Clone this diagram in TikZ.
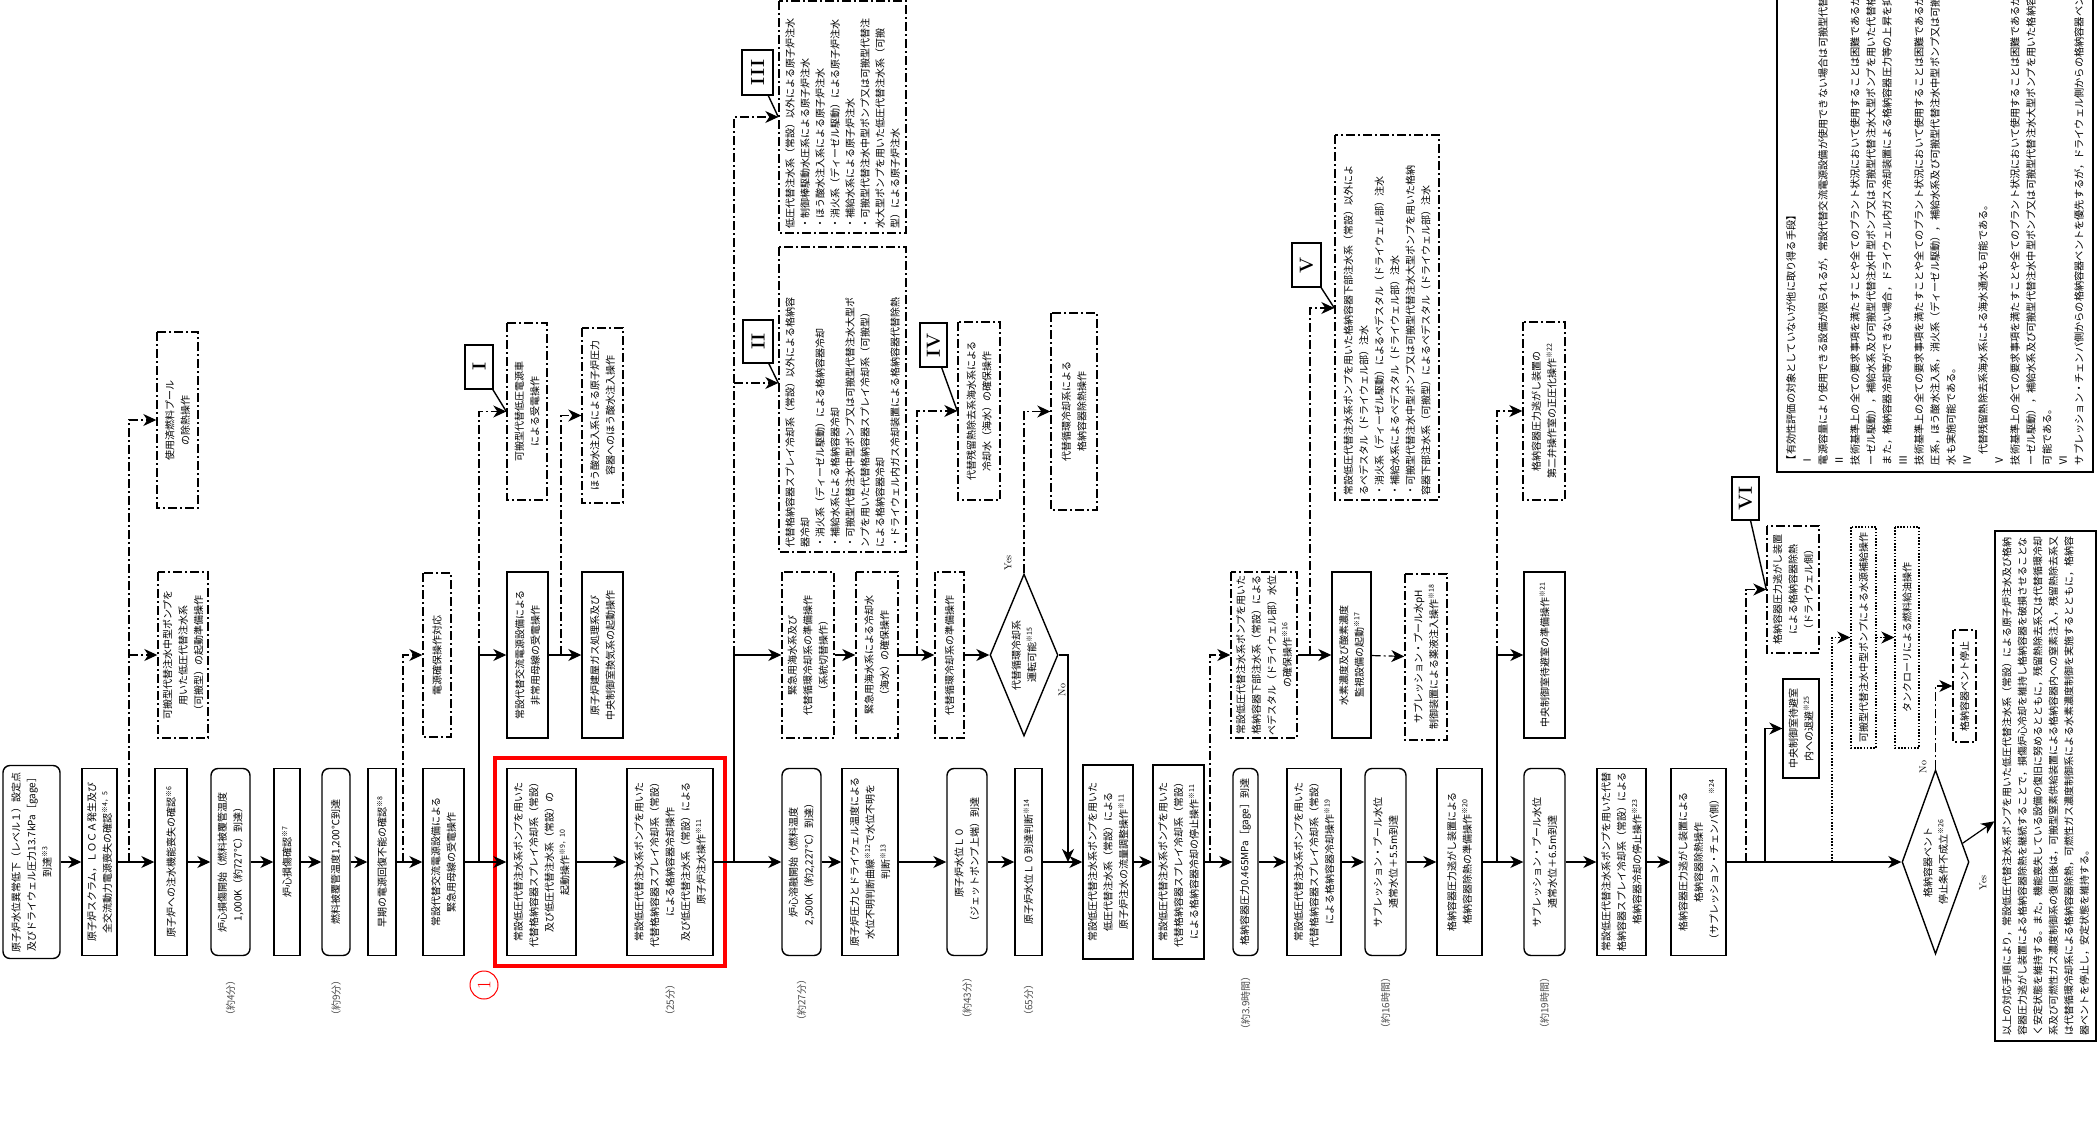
\documentclass[tikz,border=0pt]{standalone}
\usepackage{fontspec}
\newfontfamily\jp{Noto Sans CJK JP}
\usepackage{tikz}
\usetikzlibrary{arrows.meta,fit,shapes.geometric}
\newcommand{\jpf}{\jp\fontsize{10}{15.5}\selectfont}
\newcommand{\jpl}{\jp\fontsize{10}{15}\selectfont}
\newcommand{\nt}[1]{\textsuperscript{※#1}}
\tikzset{
  sz/.style 2 args={minimum width=#1pt,minimum height=#2pt},
  stepbox/.style={draw,line width=1.4pt,rotate=90,align=center,font=\jpf,inner sep=2pt},
  evbox/.style={stepbox,rounded corners=7pt},
  optbox/.style={stepbox,dash pattern=on 9pt off 3pt on 2pt off 3pt},
  dotbox/.style={stepbox,dash pattern=on 1.6pt off 1.6pt},
  qbox/.style={draw,line width=1.4pt,diamond,rotate=90,align=center,font=\jpf,inner sep=0pt},
  romtag/.style={draw,line width=1.4pt,rotate=90,inner sep=0pt,font=\bfseries\fontsize{19}{19}\selectfont},
  timelab/.style={rotate=90,font=\jpf,text=black!70},
  ynlab/.style={rotate=90,font=\fontsize{10}{10}\selectfont},
  flowln/.style={line width=1.2pt,->},
  altln/.style={line width=1.2pt,dash pattern=on 9pt off 3pt on 2pt off 3pt},
  dotln/.style={line width=1.2pt,dash pattern=on 1.6pt off 1.6pt},
  tipln/.style={line width=1.4pt},
}

\begin{document}
\begin{tikzpicture}[x=1pt,y=-1pt,>={Stealth[length=13pt,width=12pt,inset=4pt]}]
  \useasboundingbox (0,0) rectangle (2097,1124);
  \clip (0,0) rectangle (2097,1124);

  % main row: event sequence
  \node[evbox,sz={193}{57}] (m1) at (31.5,862) {原子炉水位異常低下（レベル１）設定点\\及びドライウェル圧力13.7kPa［gage］\\到達\nt{3}};
  \node[stepbox,sz={187}{35}] (m2) at (99.5,862) {原子炉スクラム，ＬＯＣＡ発生及び\\全交流動力電源喪失の確認\nt{4，5}};
  \node[stepbox,sz={187}{32}] (m3) at (171,862) {原子炉への注水機能喪失の確認\nt{6}};
  \node[evbox,sz={187}{39}] (m4) at (230.5,862) {炉心損傷開始（燃料被覆管温度\\1,000K（約727℃）到達）};
  \node[stepbox,sz={187}{26}] (m5) at (287,862) {炉心損傷確認\nt{7}};
  \node[evbox,sz={187}{28}] (m6) at (336,862) {燃料被覆管温度1,200℃到達};
  \node[stepbox,sz={187}{28}] (m7) at (382,862) {早期の電源回復不能の確認\nt{8}};
  \node[stepbox,sz={187}{41}] (m8) at (443.5,862) {常設代替交流電源設備による\\緊急用母線の受電操作};
  \node[stepbox,sz={187}{69}] (m9) at (541.5,862) {常設低圧代替注水系ポンプを用いた\\代替格納容器スプレイ冷却系（常設）\\及び低圧代替注水系（常設）の\\起動操作\nt{9，10}};
  \node[stepbox,sz={187}{86}] (m10) at (670,862) {常設低圧代替注水系ポンプを用いた\\代替格納容器スプレイ冷却系（常設）\\による格納容器冷却操作\\及び低圧代替注水系（常設）による\\原子炉注水操作\nt{11}};
  \node[evbox,sz={187}{39}] (m11) at (801.5,862) {炉心溶融開始（燃料温度\\2,500K（約2,227℃）到達）};
  \node[stepbox,sz={187}{56}] (m12) at (870,862) {原子炉圧力とドライウェル温度による\\水位不明判断曲線\nt{12}で水位不明を\\判断\nt{13}};
  \node[evbox,sz={187}{40}] (m13) at (967,862) {原子炉水位Ｌ０\\（ジェットポンプ上端）到達};
  \node[stepbox,sz={187}{27}] (m14) at (1028.5,862) {原子炉水位Ｌ０到達判断\nt{14}};
  \node[stepbox,sz={194}{50}] (m15) at (1108,862) {常設低圧代替注水系ポンプを用いた\\低圧代替注水系（常設）による\\原子炉注水の流量調整操作\nt{11}};
  \node[stepbox,sz={194}{51}] (m16) at (1178.5,862) {常設低圧代替注水系ポンプを用いた\\代替格納容器スプレイ冷却系（常設）\\による格納容器冷却の停止操作\nt{11}};
  \node[evbox,sz={187}{25}] (m17) at (1245.5,862) {格納容器圧力0.465MPa［gage］到達};
  \node[stepbox,sz={187}{54}] (m18) at (1314,862) {常設低圧代替注水系ポンプを用いた\\代替格納容器スプレイ冷却系（常設）\\による格納容器冷却操作\nt{19}};
  \node[evbox,sz={187}{41}] (m19) at (1385.5,862) {サプレッション・プール水位\\通常水位＋5.5m到達};
  \node[stepbox,sz={187}{45}] (m20) at (1459.5,862) {格納容器圧力逃がし装置による\\格納容器除熱の準備操作\nt{20}};
  \node[evbox,sz={187}{41}] (m21) at (1544.5,862) {サプレッション・プール水位\\通常水位＋6.5m到達};
  \node[stepbox,sz={187}{49}] (m22) at (1621.5,862) {常設低圧代替注水系ポンプを用いた代替\\格納容器スプレイ冷却系（常設）による\\格納容器冷却の停止操作\nt{23}};
  \node[stepbox,sz={187}{55}] (m23) at (1698.5,862) {格納容器圧力逃がし装置による\\格納容器除熱操作\\（サプレッション・チェンバ側）\nt{24}};
  \node[qbox,aspect=2.75,sz={184}{67}] (q2) at (1935.5,862) {格納容器ベント\\停止条件不成立\nt{26}};
  \node[stepbox,align=left,inner xsep=5pt,sz={502}{101}] (m24) at (2045.5,786) {以上の対応手順により，常設低圧代替注水系ポンプを用いた低圧代替注水系（常設）による原子炉注水及び格納\\容器圧力逃がし装置による格納容器除熱を継続することで，損傷炉心冷却を維持し格納容器を破損させることな\\く安定状態を維持する。また，機能喪失している設備の復旧に努めるとともに，残留熱除去系又は代替循環冷却\\系及び可燃性ガス濃度制御系の復旧後は，可搬型窒素供給装置による格納容器内への窒素注入，残留熱除去系又\\は代替循環冷却系による格納容器除熱，可燃性ガス濃度制御系による水素濃度制御を実施するとともに，格納容\\器ベントを停止し，安定状態を維持する。};

  % elapsed times
  \node[timelab] (tm4) at (m4 |- 0,998) {（約4分）};
  \node[timelab] (tm6) at (m6 |- 0,998) {（約9分）};
  \node[timelab] (tm10) at (m10 |- 0,1000) {（25分）};
  \node[timelab] (tm11) at (m11 |- 0,1000) {（約27分）};
  \node[timelab] (tm13) at (m13 |- 0,998) {（約43分）};
  \node[timelab] (tm14) at (m14 |- 0,1000) {（65分）};
  \node[timelab] (tm17) at (m17 |- 0,1003) {（約3.9時間）};
  \node[timelab] (tm19) at (m19 |- 0,1003) {（約16時間）};
  \node[timelab] (tm21) at (m21 |- 0,1003) {（約19時間）};

  % upper row: parallel operations
  \node[optbox,sz={166}{50}] (o1) at (183,655) {可搬型代替注水中型ポンプを\\用いた低圧代替注水系\\（可搬型）の起動準備操作};
  \node[optbox,sz={164}{28}] (o2) at (437,655) {電源確保操作対応};
  \node[stepbox,sz={166}{41}] (s1) at (527.5,655) {常設代替交流電源設備による\\非常用母線の受電操作};
  \node[stepbox,sz={166}{41}] (s2) at (602.5,655) {原子炉建屋ガス処理系及び\\中央制御室換気系の起動操作};
  \node[optbox,sz={166}{52}] (o3) at (808,655) {緊急用海水系及び\\代替循環冷却系の準備操作\\（系統切替操作）};
  \node[optbox,sz={166}{42}] (o4) at (877,655) {緊急用海水系による冷却水\\（海水）の確保操作};
  \node[optbox,sz={166}{29}] (o5) at (949.5,655) {代替循環冷却系の準備操作};
  \node[qbox,aspect=2.4,sz={162}{68}] (q1) at (1024,655) {代替循環冷却系\\運転可能\nt{15}};
  \node[optbox,sz={166}{66}] (o6) at (1264,655) {常設低圧代替注水系ポンプを用いた\\格納容器下部注水系（常設）による\\ペデスタル（ドライウェル部）水位\\の確保操作\nt{16}};
  \node[stepbox,sz={166}{39}] (s3) at (1351.5,655) {水素濃度及び酸素濃度\\監視設備の起動\nt{17}};
  \node[optbox,sz={166}{42}] (o7) at (1426,657) {サプレッション・プール水pH\\制御装置による薬液注入操作\nt{18}};
  \node[stepbox,sz={166}{41}] (s4) at (1544.5,655) {中央制御室待避室の準備操作\nt{21}};
  \node[optbox,sz={127}{52}] (o8) at (1793,589.5) {格納容器圧力逃がし装置\\による格納容器除熱\\（ドライウェル側）};
  \node[stepbox,sz={99}{36}] (s5) at (1801,728.5) {中央制御室待避室\\内への退避\nt{25}};
  \node[dotbox,sz={221}{25}] (p1) at (1863.5,637.5) {可搬型代替注水中型ポンプによる水源補給操作};
  \node[dotbox,sz={221}{24}] (p2) at (1907,637.5) {タンクローリによる燃料給油操作};
  \node[optbox,sz={112}{23}] (o9) at (1964.5,686) {格納容器ベント停止};

  % top row: further options
  \node[optbox,sz={176}{41}] (t1) at (177.5,420) {使用済燃料プール\\の除熱操作};
  \node[optbox,sz={177}{40}] (t2) at (527,411.5) {可搬型代替低圧電源車\\による受電操作};
  \node[optbox,sz={175}{41}] (t3) at (602.5,415.5) {ほう酸水注入系による原子炉圧力\\容器へのほう酸水注入操作};
  \node[optbox,align=left,font=\jpl,text width=295pt,inner xsep=5pt,sz={305}{127}] (t4) at (842.5,399.5) {代替格納容器スプレイ冷却系（常設）以外による格納容\\器冷却\\・消火系（ディーゼル駆動）による格納容器冷却\\・補給水系による格納容器冷却\\・可搬型代替注水中型ポンプ又は可搬型代替注水大型ポ\\ンプを用いた代替格納容器スプレイ冷却系（可搬型）\\による格納容器冷却\\・ドライウェル内ガス冷却装置による格納容器代替除熱};
  \node[optbox,align=left,font=\jpl,text width=222pt,inner xsep=5pt,sz={232}{127}] (t5) at (842.5,117) {低圧代替注水系（常設）以外による原子炉注水\\・制御棒駆動水圧系による原子炉注水\\・ほう酸水注入系による原子炉注水\\・消火系（ディーゼル駆動）による原子炉注水\\・補給水系による原子炉注水\\・可搬型代替注水中型ポンプ又は可搬型代替注\\水大型ポンプを用いた低圧代替注水系（可搬\\型）による原子炉注水};
  \node[optbox,sz={178}{42}] (t6) at (979,411) {代替残留熱除去系海水系による\\冷却水（海水）の確保操作};
  \node[optbox,sz={197}{46}] (t7) at (1074,411.5) {代替循環冷却系による\\格納容器除熱操作};
  \node[optbox,align=left,text width=355pt,inner xsep=5pt,sz={365}{104}] (t8) at (1387,317.5) {常設低圧代替注水系ポンプを用いた格納容器下部注水系（常設）以外によ\\るペデスタル（ドライウェル部）注水\\・消火系（ディーゼル駆動）によるペデスタル（ドライウェル部）注水\\・補給水系によるペデスタル（ドライウェル部）注水\\・可搬型代替注水中型ポンプ又は可搬型代替注水大型ポンプを用いた格納\\容器下部注水系（可搬型）によるペデスタル（ドライウェル部）注水};
  \node[optbox,sz={178}{42}] (t9) at (1544,411) {格納容器圧力逃がし装置の\\第二弁操作室の正圧化操作\nt{22}};

  % notes on other means (running past the top edge)
  \node[stepbox,align=left,text width=686pt,inner xsep=7pt,inner ysep=5pt,font=\jp\fontsize{10.2}{16}\selectfont,sz={700}{316}] (memo) at (1935,122) {【有効性評価の対象としていないが他に取り得る手段】\\Ⅰ\\電源容量により使用できる設備が限られるが，常設代替交流電源設備が使用できない場合は可搬型代替低圧電源車を\\Ⅱ\\技術基準上の全ての要求事項を満たすことや全てのプラント状況において使用することは困難であるが，消火系（ディ\\ーゼル駆動），補給水系及び可搬型代替注水中型ポンプ又は可搬型代替注水大型ポンプを用いた代替格納容器スプレイ\\また，格納容器冷却等ができない場合，ドライウェル内ガス冷却装置による格納容器圧力等の上昇を抑制\\Ⅲ\\技術基準上の全ての要求事項を満たすことや全てのプラント状況において使用することは困難であるが，制御棒駆動水\\圧系，ほう酸水注入系，消火系（ディーゼル駆動），補給水系及び可搬型代替注水中型ポンプ又は可搬型代替注水大型\\水も実施可能である。\\Ⅳ\\　代替残留熱除去系海水系による海水通水も可能である。\\Ⅴ\\技術基準上の全ての要求事項を満たすことや全てのプラント状況において使用することは困難であるが，消火系（ディ\\ーゼル駆動），補給水系及び可搬型代替注水中型ポンプ又は可搬型代替注水大型ポンプを用いた格納容器下部注水\\可能である。\\Ⅵ\\サプレッション・チェンバ側からの格納容器ベントを優先するが，ドライウェル側からの格納容器ベントも可能};

  % roman tags
  \node[romtag,sz={44}{28}] (r1) at (479,367) {I};
  \node[romtag,sz={43}{30}] (r2) at (758,341.5) {II};
  \node[romtag,sz={45}{31}] (r3) at (757.5,72.5) {III};
  \node[romtag,sz={44}{27}] (r4) at (933.5,345) {IV};
  \node[romtag,sz={44}{29}] (r5) at (1306.5,265) {V};
  \node[romtag,sz={43}{27}] (r6) at (1745.5,498.5) {VI};

  % group frame and mark
  \node[draw=red,line width=4pt,fit=(m9)(m10),inner xsep=11pt,inner ysep=10pt] (grp) {};
  \node[draw=red,circle,line width=1pt,text=red,rotate=90,minimum size=28pt,inner sep=0pt,font=\fontsize{19}{19}\selectfont] (mk) at (484,985) {1};

  % branch points
  \coordinate (j1) at (129,862);
  \coordinate (k1) at (129,655);
  \coordinate (j2) at (403,862);
  \coordinate (j3) at (479,862);
  \coordinate (k3) at (479,655);
  \coordinate (k4) at (561,655);
  \coordinate (j5) at (734,862);
  \coordinate (k5) at (734,655);
  \coordinate (k5b) at (734,383);
  \coordinate (k6) at (917,655);
  \coordinate (n1) at (1068,862);
  \coordinate (j7) at (1210,862);
  \coordinate (k8) at (1310,655);
  \coordinate (v5) at (t8.north |- 0,308);
  \coordinate (j9) at (1497,862);
  \coordinate (k9) at (1497,655);
  \coordinate (j10) at (1746,862);
  \coordinate (j11) at (1765,862);
  \coordinate (j12) at (1832,862);

  % main flow
  \foreach \a/\b in {m1/m2,m2/m3,m3/m4,m4/m5,m5/m6,m6/m7,m7/m8,m8/m9,m9/m10,m10/m11,m11/m12,m12/m13,m13/m14,m14/m15,m15/m16,m16/m17,m17/m18,m18/m19,m19/m20,m20/m21,m21/m22,m22/m23,m23/q2,q2/m24}
    \draw[flowln] (\a) -- (\b);

  % branches
  \draw[altln,->] (j1) |- (t1);
  \draw[altln,->] (k1) -- (o1);
  \draw[altln,->] (j2) |- (o2);
  \draw[flowln] (j3) |- (s1);
  \draw[altln,->] (k3) |- (t2);
  \draw[flowln] (s1) -- (s2);
  \draw[altln,->] (k4) |- (t3);
  \draw[flowln] (j5) |- (o3);
  \draw[altln,->] (k5) |- (t5);
  \draw[altln,->] (k5b) -- (t4.north |- k5b);
  \draw[flowln] (o3) -- (o4);
  \draw[flowln] (o4) -- (o5);
  \draw[altln,->] (k6) |- (t6);
  \draw[flowln] (o5) -- (q1);
  \draw[altln,->] (q1.east) |- (t7);
  \draw[flowln] (q1.south) -| (n1);
  \draw[altln,->] (j7) |- (o6);
  \draw[flowln] (o6) -- (s3);
  \draw[altln,->] (k8) |- (v5);
  \draw[altln,->] (s3) -- (o7);
  \draw[flowln] (j9) |- (s4);
  \draw[altln,->] (k9) |- (t9);
  \draw[altln,->] (j10) |- (o8);
  \draw[flowln] (j11) |- (s5);
  \draw[dotln,->] (j12) |- (p1);
  \draw[dotln,->] (p1) -- (p2);
  \draw[altln,->] (q2.east) |- (o9);

  % tag pointers
  \draw[tipln] (r1) -- (t2.north);
  \draw[tipln] (r2) -- (t4.north |- k5b);
  \draw[tipln] (r3) -- (t5.north);
  \draw[tipln] (r4) -- (t6.north);
  \draw[tipln] (r5) -- (v5);
  \draw[tipln] (r6) -- (o8.north);

  % decision labels
  \node[ynlab] (y1) at (1008,563) {Yes};
  \node[ynlab] (n1lab) at (1062,690) {No};
  \node[ynlab] (n2lab) at (1923,767) {No};
  \node[ynlab] (y2) at (1983,883) {Yes};
\end{tikzpicture}
\end{document}
